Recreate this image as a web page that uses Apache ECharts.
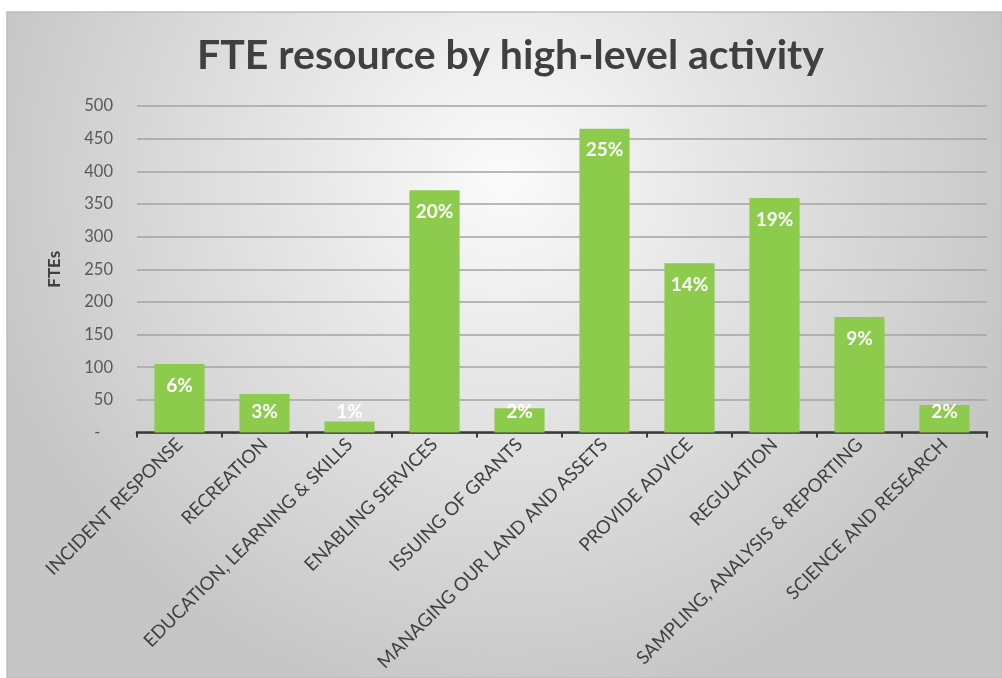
<!DOCTYPE html>
<html>
<head>
<meta charset="utf-8">
<script src="https://cdn.jsdelivr.net/npm/echarts@6/dist/echarts.min.js"></script>
<style>
html,body{margin:0;padding:0;background:#ffffff;}
#chart{width:1002px;height:678px;}
</style>
</head>
<body>
<div id="chart"></div>
<script>
var categories = ['INCIDENT RESPONSE','RECREATION','EDUCATION, LEARNING & SKILLS','ENABLING SERVICES','ISSUING OF GRANTS','MANAGING OUR LAND AND ASSETS','PROVIDE ADVICE','REGULATION','SAMPLING, ANALYSIS & REPORTING','SCIENCE AND RESEARCH'];
var ftes = [105, 59, 17, 371, 37, 465, 259, 359, 177, 42];
var shares = ['6%','3%','1%','20%','2%','25%','14%','19%','9%','2%'];
var yTicks = [0, 50, 100, 150, 200, 250, 300, 350, 400, 450, 500];

var chart = echarts.init(document.getElementById('chart'), null, {renderer:'canvas'});
var data = ftes.map(function(v, i){
  var small = v < 65;
  return {
    value: v,
    label: small ? {position:'insideBottom', distance: 11} : {position:'insideTop', distance: 12}
  };
});
chart.setOption({
  animation: false,
  graphic: [{
    type: 'rect', z: -10, silent: true,
    shape: {x: 7, y: 12, width: 995, height: 666},
    style: {
      fill: new echarts.graphic.RadialGradient(0.5, 0.25, 0.8, [
        {offset: 0, color: '#fbfbfb'},
        {offset: 1, color: '#c6c6c6'}
      ]),
      stroke: '#bdbdbd', lineWidth: 1.5
    }
  }],
  title: {
    text: 'FTE resource by high-level activity',
    left: 192, top: 30,
    textStyle: {fontFamily: 'Lato', fontWeight: 'bold', fontSize: 41, color: '#404040'}
  },
  grid: {left: 137, right: 15, top: 106, bottom: 245.5, containLabel: false},
  xAxis: {
    type: 'category',
    data: categories,
    axisLine: {lineStyle: {color: '#3a3a3a', width: 2.5}},
    axisTick: {show: true, length: 5, lineStyle: {color: '#3a3a3a', width: 2}},
    axisLabel: {
      rotate: 45, interval: 0, margin: 9,
      fontFamily: 'Lato', fontSize: 18.5, color: '#404040'
    }
  },
  yAxis: {
    type: 'value', min: yTicks[0], max: yTicks[yTicks.length-1], interval: 50,
    name: 'FTEs', nameLocation: 'middle', nameGap: 74, nameRotate: 90,
    nameTextStyle: {fontFamily: 'Lato', fontWeight: 'bold', fontSize: 17, color: '#404040'},
    axisLine: {show: false}, axisTick: {show: false},
    axisLabel: {
      fontFamily: 'Lato', fontSize: 16.5, color: '#595959', margin: 24,
      formatter: function(v){ return v === 0 ? '-   ' : String(v); }
    },
    splitLine: {lineStyle: {color: '#a3a3a3', width: 1.5}}
  },
  series: [{
    type: 'bar',
    data: data,
    barWidth: '59%',
    itemStyle: {color: '#8dcb4c'},
    label: {
      show: true,
      fontFamily: 'Lato', fontWeight: 'bold', fontSize: 19, color: '#ffffff',
      formatter: function(p){ return shares[p.dataIndex]; }
    }
  }]
});
</script>
</body>
</html>
